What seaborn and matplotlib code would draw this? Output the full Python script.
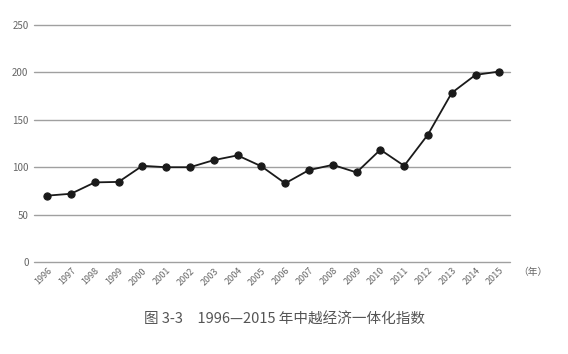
import matplotlib
matplotlib.use("Agg")
import matplotlib.pyplot as plt
import seaborn as sns
import pandas as pd

years = [str(y) for y in range(1996, 2016)]
values = [70, 72, 84, 84.5, 101.5, 100, 100, 107.5, 112.5, 101, 83, 97, 102.5, 94.5, 118.5, 101.5, 134.5, 178.5, 197.5, 201]
yticks = [0, 50, 100, 150, 200, 250]

sns.set_theme(style="white")
plt.rcParams['font.family'] = ['Noto Sans CJK SC', 'DejaVu Sans']

df = pd.DataFrame({"idx": range(len(years)), "year": years, "value": values})

fig = plt.figure(figsize=(5.68, 3.54), dpi=100)
ax = fig.add_axes([0.060, 0.260, 0.838, 0.669])

for t in yticks:
    ax.axhline(t, color="#a0a0a0", lw=1.0, zorder=1, clip_on=False)

sns.lineplot(data=df, x="idx", y="value", ax=ax, color="#1a1a1a", lw=1.3,
             marker="o", markersize=5.2, markeredgecolor="#1a1a1a", zorder=3)

ax.set_xlim(-0.55, 19.45)
ax.set_ylim(0, 250)
ax.set_yticks(yticks)
ax.set_yticklabels([str(t) for t in yticks], color="#666666", fontsize=7)
ax.set_xticks(range(len(years)))
ax.set_xticklabels(years, rotation=45, ha="right", rotation_mode="anchor",
                   color="#666666", fontsize=6.5)
ax.tick_params(axis="both", length=0, pad=4)
ax.tick_params(axis="x", pad=3)
ax.set_xlabel("")
ax.set_ylabel("")
for s in ax.spines.values():
    s.set_visible(False)

fig.text(0.912, 0.232, "（年）", color="#666666", fontsize=7, ha="left", va="center")
fig.text(0.5, 0.097, "图 3-3　1996—2015 年中越经济一体化指数", color="#555555",
         fontsize=10.5, ha="center", va="center")

fig.savefig("out.png", dpi=100, facecolor="white")
